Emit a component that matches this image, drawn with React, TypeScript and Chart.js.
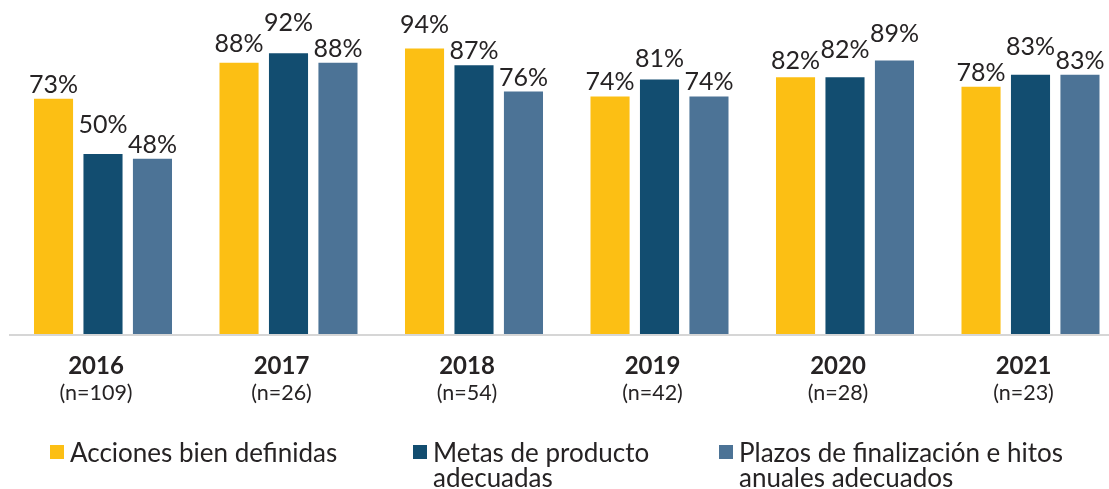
import { useEffect, useRef } from "react";
import { Chart, registerables } from "chart.js";

Chart.register(...registerables);

// ---- data ----
const years = ["2016", "2017", "2018", "2019", "2020", "2021"];
const sampleSizes = ["(n=109)", "(n=26)", "(n=54)", "(n=42)", "(n=28)", "(n=23)"];
const seriesNames: string[][] = [
  ["Acciones bien definidas"],
  ["Metas de producto", "adecuadas"],
  ["Plazos de finalización e hitos", "anuales adecuados"],
];
const accionesValues = [73, 88, 94, 74, 82, 78];
const metasValues = [50, 92, 87, 81, 82, 83];
const plazosValues = [48, 88, 76, 74, 89, 83];

// ---- style / layout ----
const COLORS = ["#FCBF14", "#124D70", "#4C7396"];
const FONT = "Lato, 'Open Sans', sans-serif";
const TEXT = "#262324";
const AXIS_MIN = -25;
// extra vertical lift (px) of value labels, per series, to stagger them
const LABEL_LIFT = [
  [0, 5, 9, 0, 2, 0],
  [15, 16, 0, 7, 13, 14],
  [0, 0, 0, 0, 12, 0],
];
const LEGEND_X = [50, 413, 719];

const valueLabels = {
  id: "valueLabels",
  afterDatasetsDraw(chart: any) {
    const ctx = chart.ctx;
    ctx.save();
    ctx.font = `400 25px ${FONT}`;
    ctx.fillStyle = TEXT;
    ctx.textAlign = "center";
    ctx.textBaseline = "alphabetic";
    chart.data.datasets.forEach((ds: any, i: number) => {
      const meta = chart.getDatasetMeta(i);
      meta.data.forEach((el: any, j: number) => {
        ctx.fillText(`${ds.data[j]}%`, el.x, el.y - 6 - LABEL_LIFT[i][j]);
      });
    });
    ctx.restore();
  },
};

const baseline = {
  id: "baseline",
  beforeDatasetsDraw(chart: any) {
    const ctx = chart.ctx;
    const y = chart.scales.y.getPixelForValue(AXIS_MIN);
    ctx.save();
    ctx.fillStyle = "#d6d6d6";
    ctx.fillRect(9, y, chart.width - 9, 2);
    ctx.restore();
  },
};

const categoryLabels = {
  id: "categoryLabels",
  afterDraw(chart: any) {
    const ctx = chart.ctx;
    const xs = chart.scales.x;
    const bottom = chart.chartArea.bottom;
    ctx.save();
    ctx.fillStyle = TEXT;
    ctx.textAlign = "center";
    ctx.textBaseline = "alphabetic";
    years.forEach((yr, i) => {
      const x = xs.getPixelForValue(i) - 7;
      ctx.font = `700 24px ${FONT}`;
      ctx.fillText(yr, x, bottom + 40);
      ctx.font = `400 21.5px ${FONT}`;
      ctx.fillText(sampleSizes[i], x, bottom + 66);
    });
    ctx.restore();
  },
};

const customLegend = {
  id: "customLegend",
  afterDraw(chart: any) {
    const ctx = chart.ctx;
    ctx.save();
    ctx.textAlign = "left";
    ctx.textBaseline = "alphabetic";
    ctx.font = `400 26px ${FONT}`;
    chart.data.datasets.forEach((ds: any, i: number) => {
      const x = LEGEND_X[i];
      ctx.fillStyle = ds.backgroundColor;
      ctx.fillRect(x, 445, 14, 14);
      ctx.fillStyle = TEXT;
      const lines: string[] = Array.isArray(ds.label) ? ds.label : [ds.label];
      lines.forEach((ln, k) => ctx.fillText(ln, x + 20, 462 + k * 25));
    });
    ctx.restore();
  },
};

export default function App() {
  const ref = useRef<HTMLCanvasElement | null>(null);

  useEffect(() => {
    if (!ref.current) return;
    const seriesValues = [accionesValues, metasValues, plazosValues];
    const chart = new Chart(ref.current, {
      type: "bar",
      data: {
        labels: years,
        datasets: seriesValues.map((vals, i) => ({
          label: seriesNames[i] as any,
          data: vals,
          backgroundColor: COLORS[i],
          borderWidth: 0,
          base: AXIS_MIN,
          categoryPercentage: 0.8,
          barPercentage: 0.79,
          clip: false as any,
        })),
      },
      options: {
        animation: false,
        responsive: true,
        maintainAspectRatio: false,
        layout: { padding: { left: 103, right: 78.5, top: 34, bottom: 155 } },
        scales: {
          x: { display: false, offset: false, grid: { display: false } },
          y: { display: false, min: AXIS_MIN, max: 100 },
        },
        plugins: {
          legend: { display: false },
          tooltip: { enabled: false },
        },
      },
      plugins: [baseline, valueLabels, categoryLabels, customLegend],
    });
    return () => chart.destroy();
  }, []);

  return (
    <div style={{ position: "fixed", left: 0, top: 0, width: 1109, height: 489, background: "#fff" }}>
      <canvas ref={ref} />
    </div>
  );
}
